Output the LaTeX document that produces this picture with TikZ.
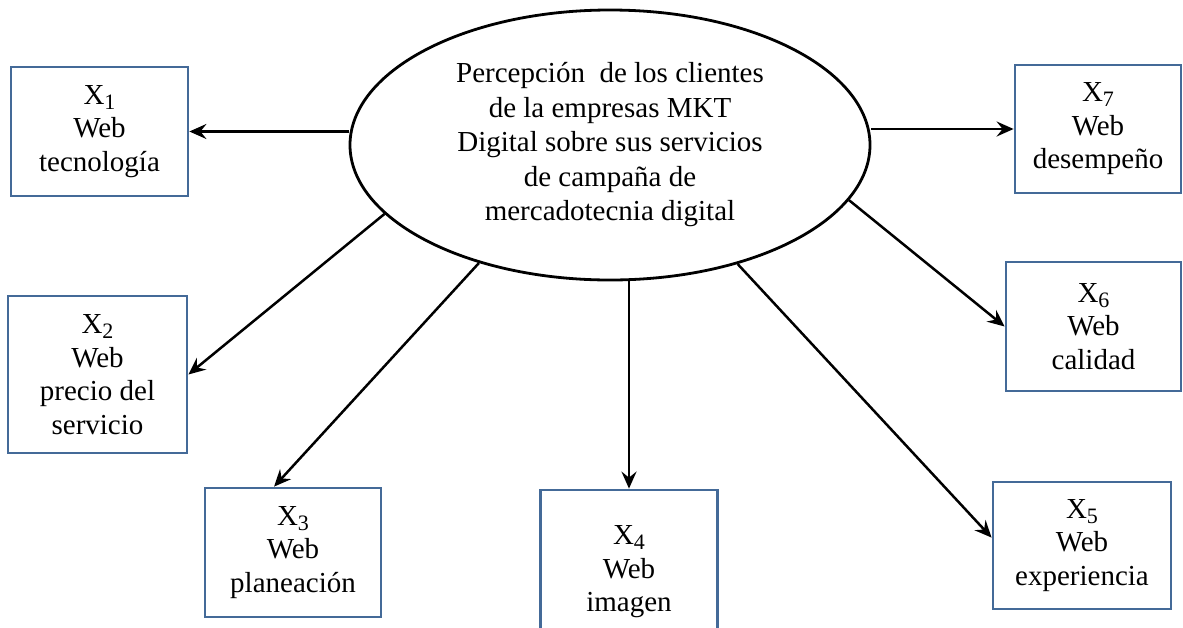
\documentclass[tikz,border=0pt]{standalone}
\usepackage{fontspec}
\setmainfont{Liberation Serif}
\usetikzlibrary{shapes.geometric,arrows.meta}

\definecolor{boxblue}{RGB}{68,106,152}
\newcommand{\xvar}[1]{X\raisebox{-5pt}{\fontsize{22}{22}\selectfont #1}}

\tikzset{
  varbox/.style={draw=boxblue, line width=2.8pt, align=center, inner sep=0pt,
    font=\fontsize{29}{33.5}\selectfont},
  arr/.style={-{Stealth[length=17pt,width=15pt,inset=6pt]}, line width=2.5pt}
}

\begin{document}
\begin{tikzpicture}[x=1pt,y=-1pt]
          \useasboundingbox (0,0) rectangle (1183,627);

          \node[ellipse, draw, line width=2.8pt, minimum width=520pt, minimum height=270pt,
                inner sep=0pt, align=center, font=\fontsize{29}{34.5}\selectfont]
               (ell) at (610,145)
               {Percepción\ \ de los clientes\\de la empresas MKT\\Digital sobre sus servicios\\de campaña de\\mercadotecnia digital};

          \node[varbox, minimum width=177pt, minimum height=129pt] (x1) at (99.5,131.5) {\xvar{1}\\Web\\tecnología};
          \node[varbox, minimum width=179pt, minimum height=157pt] (x2) at (97.5,374.5) {\xvar{2}\\Web\\precio del\\servicio};
          \node[varbox, minimum width=176pt, minimum height=129pt] (x3) at (293,552.5) {\xvar{3}\\Web\\planeación};
          \node[varbox, minimum width=177pt, minimum height=164pt] (x4) at (629,572) {\xvar{4}\\Web\\imagen};
          \node[varbox, minimum width=178pt, minimum height=127pt] (x5) at (1082,545.5) {\xvar{5}\\Web\\experiencia};
          \node[varbox, minimum width=175pt, minimum height=129pt] (x6) at (1093.5,326.5) {\xvar{6}\\Web\\calidad};
          \node[varbox, minimum width=166pt, minimum height=128pt] (x7) at (1098,129) {\xvar{7}\\Web\\desempeño};

          \draw[arr] (x1.east -| ell.west) -- (x1.east);
          \draw[arr] (x7.west -| ell.east) -- (x7.west);
          \draw[arr] (x4.north |- ell.south) -- (x4.north);

          \foreach \a/\b in {ell.197/x2.east, ell.222/x3.106, ell.317/x5.175, ell.347/x6.west}{
            \draw[arr] (\a) -- (\b);
          }
        \end{tikzpicture}
\end{document}
